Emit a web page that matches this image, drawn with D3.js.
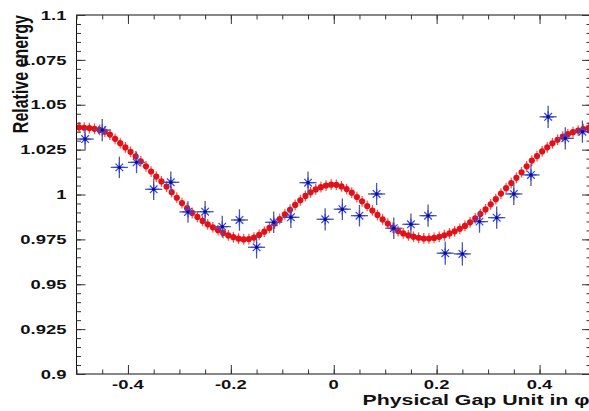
<!DOCTYPE html>
<html><head><meta charset="utf-8">
<script src="https://cdn.jsdelivr.net/npm/d3@7"></script>
<style>body{margin:0;background:#fff} svg{display:block}</style>
</head><body><svg id="c" width="589" height="411"></svg>
<script>
// ---- data ----
const redX = [-0.495,-0.485,-0.475,-0.465,-0.455,-0.445,-0.435,-0.425,-0.415,-0.405,
  -0.395,-0.385,-0.375,-0.365,-0.355,-0.345,-0.335,-0.325,-0.315,-0.305,
  -0.295,-0.285,-0.275,-0.265,-0.255,-0.245,-0.235,-0.225,-0.215,-0.205,
  -0.195,-0.185,-0.175,-0.165,-0.155,-0.145,-0.135,-0.125,-0.115,-0.105,
  -0.095,-0.085,-0.075,-0.065,-0.055,-0.045,-0.035,-0.025,-0.015,-0.005,
  0.005,0.015,0.025,0.035,0.045,0.055,0.065,0.075,0.085,0.095,
  0.105,0.115,0.125,0.135,0.145,0.155,0.165,0.175,0.185,0.195,
  0.205,0.215,0.225,0.235,0.245,0.255,0.265,0.275,0.285,0.295,
  0.305,0.315,0.325,0.335,0.345,0.355,0.365,0.375,0.385,0.395,
  0.405,0.415,0.425,0.435,0.445,0.455,0.465,0.475,0.485,0.495];
const redY = [1.0374,1.0372,1.0370,1.0366,1.0360,1.0350,1.0334,1.0310,1.0286,1.0262,
  1.0238,1.0212,1.0185,1.0157,1.0128,1.0100,1.0073,1.0044,1.0013,0.9982,
  0.9952,0.9924,0.9898,0.9875,0.9853,0.9834,0.9817,0.9801,0.9786,0.9772,
  0.9762,0.9754,0.9750,0.9752,0.9760,0.9775,0.9793,0.9814,0.9838,0.9863,
  0.9889,0.9915,0.9942,0.9968,0.9992,1.0012,1.0028,1.0041,1.0050,1.0055,
  1.0054,1.0045,1.0030,1.0010,0.9986,0.9962,0.9936,0.9911,0.9886,0.9861,
  0.9838,0.9816,0.9796,0.9783,0.9772,0.9765,0.9759,0.9755,0.9755,0.9758,
  0.9764,0.9773,0.9783,0.9795,0.9809,0.9825,0.9845,0.9867,0.9891,0.9917,
  0.9945,0.9974,1.0005,1.0035,1.0064,1.0093,1.0124,1.0157,1.0189,1.0214,
  1.0240,1.0263,1.0285,1.0305,1.0322,1.0336,1.0347,1.0356,1.0364,1.0370];
const redError = 0.003;

const blueX = [-0.4833,-0.45,-0.4167,-0.3833,-0.35,-0.3167,-0.2833,-0.25,-0.2167,-0.1833,
  -0.15,-0.1167,-0.0833,-0.05,-0.0167,0.0167,0.05,0.0833,0.1167,0.15,
  0.1833,0.2167,0.25,0.2833,0.3167,0.35,0.3833,0.4167,0.45,0.4833];
const blueY = [1.0309,1.0359,1.0151,1.0179,1.0029,1.0068,0.9903,0.9904,0.9821,0.9858,
  0.9706,0.9845,0.9873,1.0066,0.9862,0.9918,0.9882,1.0003,0.9812,0.9834,
  0.9882,0.9673,0.9669,0.9849,0.9871,1.0003,1.0109,1.0433,1.0313,1.0350];
const blueYErr = [0.0060,0.0062,0.0060,0.0060,0.0060,0.0060,0.0060,0.0060,0.0060,0.0060,
  0.0062,0.0060,0.0060,0.0062,0.0062,0.0060,0.0060,0.0062,0.0060,0.0060,
  0.0062,0.0065,0.0065,0.0062,0.0062,0.0062,0.0062,0.0062,0.0062,0.0062];
const blueXErr = 0.01667;

const yTickValues = [0.9,0.925,0.95,0.975,1.0,1.025,1.05,1.075,1.1];
const yTickLabels = ["0.9","0.925","0.95","0.975","1","1.025","1.05","1.075","1.1"];
const xTickValues = [-0.4,-0.2,0,0.2,0.4];
const xTickLabels = ["-0.4","-0.2","0","0.2","0.4"];
const xTitle = "Physical Gap Unit in \u03C6";
const yTitle = "Relative energy";

// ---- layout ----
const L = 76.5, R = 591, T = 15, B = 374;
const SX = 1.42;
const FONT = "'Liberation Sans', Arial, Helvetica, sans-serif";
const x = d3.scaleLinear().domain([-0.5, 0.5]).range([L, R]);
const y = d3.scaleLinear().domain([0.9, 1.1]).range([B, T]);
const svg = d3.select("#c");
svg.append("rect").attr("width",589).attr("height",411).attr("fill","#fff");

// ---- red curve (error ticks + dots) ----
const red = svg.append("g");
red.selectAll("line").data(redX).join("line")
  .attr("x1", d => x(d)).attr("x2", d => x(d))
  .attr("y1", (d,i) => y(redY[i] - redError)).attr("y2", (d,i) => y(redY[i] + redError))
  .attr("stroke", "#ff4a2a").attr("stroke-width", 1.2);
red.selectAll("circle").data(redX).join("circle")
  .attr("cx", d => x(d)).attr("cy", (d,i) => y(redY[i]))
  .attr("r", 3.1).attr("fill", "#e3101a");

// ---- blue points ----
const blue = svg.append("g");
const bp = blue.selectAll("g").data(blueX).join("g");
bp.append("line")
  .attr("x1", d => x(d - blueXErr)).attr("x2", d => x(d + blueXErr))
  .attr("y1", (d,i) => y(blueY[i])).attr("y2", (d,i) => y(blueY[i]))
  .attr("stroke", "#4d5a95").attr("stroke-width", 1.3);
bp.append("line")
  .attr("x1", d => x(d)).attr("x2", d => x(d))
  .attr("y1", (d,i) => y(blueY[i] - blueYErr[i])).attr("y2", (d,i) => y(blueY[i] + blueYErr[i]))
  .attr("stroke", "#4d5a95").attr("stroke-width", 1.3);
const starR = 5.5, starD = 3.8;
bp.append("path")
  .attr("d", (d,i) => {
    const cx = x(d), cy = y(blueY[i]);
    return `M${cx-starR},${cy}H${cx+starR}M${cx},${cy-starR}V${cy+starR}` +
      `M${cx-starD},${cy-starD}L${cx+starD},${cy+starD}M${cx-starD},${cy+starD}L${cx+starD},${cy-starD}`;
  })
  .attr("stroke", "#3040f0").attr("stroke-width", 1.2).attr("fill", "none");
bp.append("circle")
  .attr("cx", d => x(d)).attr("cy", (d,i) => y(blueY[i]))
  .attr("r", 1.7).attr("fill", "#10107a");

// ---- frame & ticks ----
svg.append("rect").attr("x", L).attr("y", T).attr("width", R - L).attr("height", B - T)
  .attr("fill", "none").attr("stroke", "#111").attr("stroke-width", 1);

const yMinor = d3.range(0, 41).map(i => 0.9 + i * 0.005);
const xMinor = d3.range(0, 21).map(i => -0.5 + i * 0.05);
function ticks(axis, tx, ty) {
  const g = svg.append("g").attr("transform", `translate(${tx},${ty})`).call(axis);
  g.select(".domain").remove();
  g.selectAll("line").attr("stroke", "#333");
  g.selectAll("text").remove();
}
ticks(d3.axisRight(y).tickValues(yMinor).tickSize(4.5).tickFormat(""), L, 0);
ticks(d3.axisRight(y).tickValues(yTickValues).tickSize(9).tickFormat(""), L, 0);
ticks(d3.axisLeft(y).tickValues(yMinor).tickSize(4.5).tickFormat(""), R, 0);
ticks(d3.axisLeft(y).tickValues(yTickValues).tickSize(9).tickFormat(""), R, 0);
ticks(d3.axisTop(x).tickValues(xMinor).tickSize(4.5).tickFormat(""), 0, B);
ticks(d3.axisTop(x).tickValues(xTickValues).tickSize(9).tickFormat(""), 0, B);
ticks(d3.axisBottom(x).tickValues(xMinor).tickSize(4.5).tickFormat(""), 0, T);
ticks(d3.axisBottom(x).tickValues(xTickValues).tickSize(9).tickFormat(""), 0, T);

// ---- labels ----
svg.append("g").selectAll("text").data(yTickValues).join("text")
  .attr("transform", d => `translate(66.5,${y(d)}) scale(${SX},1)`)
  .attr("text-anchor", "end").attr("dy", "0.36em")
  .attr("font-family", FONT).attr("font-weight", "bold").attr("font-size", 13)
  .attr("fill", "#111")
  .text((d,i) => yTickLabels[i]);
svg.append("g").selectAll("text").data(xTickValues).join("text")
  .attr("transform", d => `translate(${x(d)},388.5) scale(${SX},1)`)
  .attr("text-anchor", "middle")
  .attr("font-family", FONT).attr("font-weight", "bold").attr("font-size", 13)
  .attr("fill", "#111")
  .text((d,i) => xTickLabels[i]);
svg.append("text")
  .attr("transform", `translate(589.5,404.5) scale(${SX},1)`)
  .attr("text-anchor", "end")
  .attr("font-family", FONT).attr("font-weight", "bold").attr("font-size", 15)
  .attr("fill", "#111")
  .text(xTitle);
svg.append("text")
  .attr("transform", `translate(28,15) scale(${SX},1) rotate(-90)`)
  .attr("text-anchor", "end")
  .attr("font-family", FONT).attr("font-weight", "bold").attr("font-size", 16)
  .attr("fill", "#111")
  .text(yTitle);
</script></body></html>
